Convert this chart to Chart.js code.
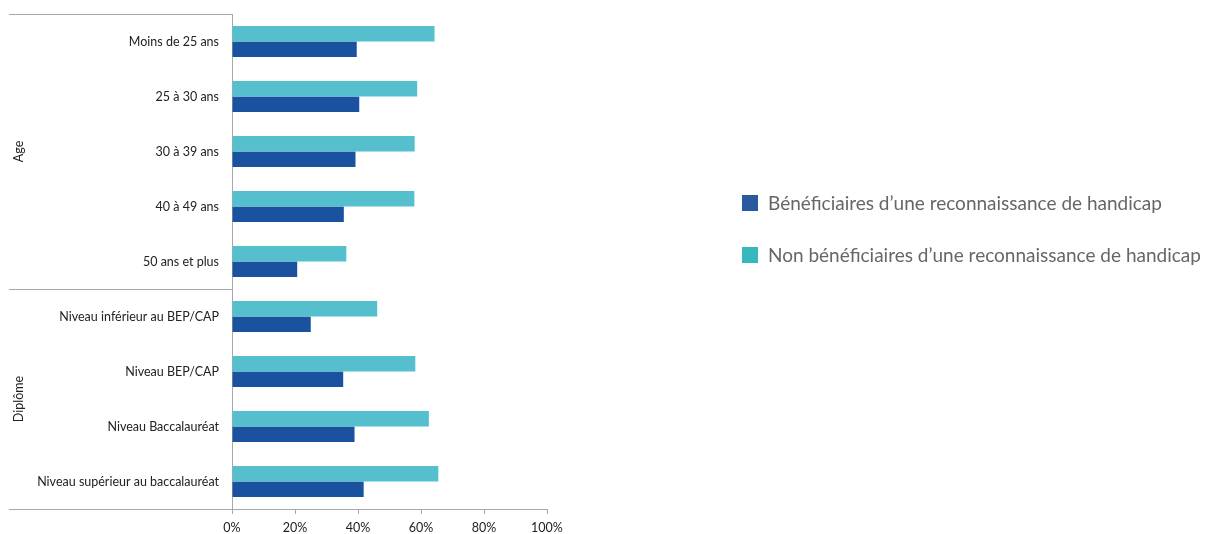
<!DOCTYPE html>
<html>
<head>
<meta charset="utf-8">
<script src="https://cdn.jsdelivr.net/npm/chart.js@4.4.1/dist/chart.umd.min.js"></script>
<style>
  html, body { margin: 0; padding: 0; background: #fff; }
  #wrap { width: 1207px; height: 534px; }
</style>
</head>
<body>
<div id="wrap"><canvas id="chart"></canvas></div>
<script>
// === DATA ===
const categories = [
  "Moins de 25 ans", "25 à 30 ans", "30 à 39 ans", "40 à 49 ans", "50 ans et plus",
  "Niveau inférieur au BEP/CAP", "Niveau BEP/CAP", "Niveau Baccalauréat", "Niveau supérieur au baccalauréat"
];
const groups = ["Age", "Diplôme"];
const groupSizes = [5, 4];
const beneficiaires = [39.6, 40.4, 39.2, 35.5, 20.7, 25.0, 35.3, 38.9, 41.8];
const nonBeneficiaires = [64.3, 58.8, 58.0, 57.9, 36.3, 46.1, 58.2, 62.5, 65.5];
const xTicks = [0, 20, 40, 60, 80, 100];

const DARK = "#1a52a0";
const LIGHT = "#55bfce";
const FONT = "Lato, 'Noto Sans', sans-serif";

// group labels + separators on the left, custom legend on the right
const sidePlugin = {
  id: "side",
  afterDraw(chart) {
    const { ctx, chartArea, scales: { y } } = chart;
    const band = y.getPixelForValue(1) - y.getPixelForValue(0);
    ctx.save();
    ctx.strokeStyle = "#a8a8a8";
    ctx.lineWidth = 1;
    ctx.fillStyle = "#222";
    ctx.font = "12.5px " + FONT;
    ctx.textAlign = "center";
    ctx.textBaseline = "middle";
    let start = 0;
    const edges = [y.getPixelForValue(0) - band / 2];
    groups.forEach((g, i) => {
      const end = start + groupSizes[i];
      const top = y.getPixelForValue(start) - band / 2;
      const bottom = y.getPixelForValue(end - 1) + band / 2;
      edges.push(bottom);
      ctx.save();
      ctx.translate(19, (top + bottom) / 2);
      ctx.rotate(-Math.PI / 2);
      ctx.fillText(g, 0, 0);
      ctx.restore();
      start = end;
    });
    edges.forEach(e => {
      const yy = Math.round(e) + 0.5;
      ctx.beginPath();
      ctx.moveTo(9, yy);
      ctx.lineTo(chartArea.left, yy);
      ctx.stroke();
    });

    // legend
    const items = [
      { text: chart.data.datasets[1].label, color: "#2a5a9e" },
      { text: chart.data.datasets[0].label, color: "#35b8b9" }
    ];
    ctx.font = "19px " + FONT;
    ctx.textAlign = "left";
    items.forEach((it, i) => {
      const top = 195 + i * 52;
      ctx.fillStyle = it.color;
      ctx.fillRect(742, top, 16, 16);
      ctx.fillStyle = "#666";
      ctx.fillText(it.text, 768, top + 9);
    });
    ctx.restore();
  }
};

new Chart(document.getElementById("chart"), {
  type: "bar",
  data: {
    labels: categories,
    datasets: [
      {
        label: "Non bénéficiaires d’une reconnaissance de handicap",
        data: nonBeneficiaires,
        backgroundColor: LIGHT
      },
      {
        label: "Bénéficiaires d’une reconnaissance de handicap",
        data: beneficiaires,
        backgroundColor: DARK
      }
    ]
  },
  options: {
    indexAxis: "y",
    responsive: true,
    maintainAspectRatio: false,
    animation: false,
    datasets: { bar: { categoryPercentage: 0.565, barPercentage: 1.0 } },
    layout: { padding: { top: 14, right: 660, bottom: 0, left: 0 } },
    plugins: { legend: { display: false }, tooltip: { enabled: false } },
    scales: {
      x: {
        min: 0,
        max: 100,
        afterBuildTicks: s => { s.ticks = xTicks.map(v => ({ value: v })); },
        afterFit: s => { s.height = 25; },
        grid: { drawOnChartArea: false, drawTicks: true, tickLength: 5, color: "#a8a8a8" },
        border: { color: "#a8a8a8" },
        ticks: {
          padding: 6,
          color: "#222",
          font: { family: FONT, size: 12.5 },
          callback: v => v + "%"
        }
      },
      y: {
        afterFit: s => { s.width = 232; s.paddingTop = 0; s.paddingBottom = 0; },
        grid: { display: false, drawTicks: false },
        border: { color: "#a8a8a8" },
        ticks: {
          padding: 13,
          color: "#222",
          font: { family: FONT, size: 12.5 }
        }
      }
    }
  },
  plugins: [sidePlugin]
});
</script>
</body>
</html>
